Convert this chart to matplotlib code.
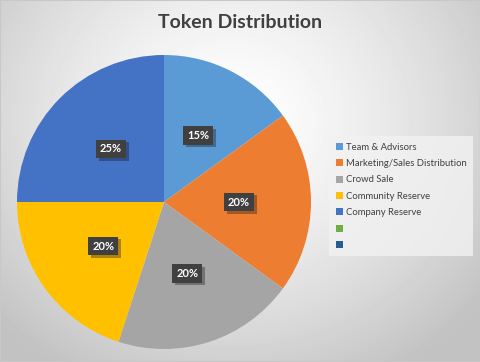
import numpy as np
import matplotlib
matplotlib.use("Agg")
import matplotlib.pyplot as plt
from matplotlib.patches import Patch
import matplotlib.patheffects as pe

categories = ["Team & Advisors", "Marketing/Sales Distribution", "Crowd Sale",
              "Community Reserve", "Company Reserve", "", ""]
shares = [15, 20, 20, 20, 25, 0, 0]
colors = ["#5B9BD5", "#ED7D31", "#A5A5A5", "#FFC000", "#4472C4", "#70AD47", "#255E91"]

fig = plt.figure(figsize=(4.81, 3.62), dpi=100)

# radial gradient background
bg = fig.add_axes([0, 0, 1, 1])
yy, xx = np.mgrid[0:362, 0:481]
r = np.sqrt(((xx - 230) / 330.0) ** 2 + ((yy - 120) / 300.0) ** 2)
shade = np.clip(1.0 - 0.25 * r ** 1.4, 0.76, 1.0)
bg.imshow(shade, cmap="gray", vmin=0, vmax=1, aspect="auto", extent=[0, 1, 0, 1])
bg.set_axis_off()
fig.patches.append(plt.Rectangle((0, 0), 1, 1, transform=fig.transFigure,
                                 fill=False, edgecolor="#c8c8c8", lw=1.5))

fig.text(240 / 481, 1 - 22 / 362, "Token Distribution", ha="center", va="center",
         fontsize=14, fontweight="bold", color="#404040", family="Lato")

r_px = 147
cx, cy = 164, 202
ax = fig.add_axes([(cx - r_px) / 481, 1 - (cy + r_px) / 362, 2 * r_px / 481, 2 * r_px / 362])
ax.set_axis_off()
vals = [v for v in shares if v > 0]
wedges, texts, autotexts = ax.pie(vals, colors=colors[:len(vals)], startangle=90,
                                  counterclock=False, autopct="%d%%", pctdistance=0.51,
                                  radius=1.0, wedgeprops=dict(linewidth=0))
ax.set_xlim(-1, 1)
ax.set_ylim(-1, 1)
for t in autotexts:
    t.set_color("white")
    t.set_fontsize(8)
    t.set_fontweight("bold")
    t.set_family("Lato")
    t.set_bbox(dict(boxstyle="square,pad=0.35", facecolor="#404040", edgecolor="none",
                    path_effects=[pe.SimplePatchShadow(offset=(2, -2), alpha=0.35),
                                  pe.Normal()]))

handles = [Patch(facecolor=c, edgecolor="none") for c in colors]
leg = fig.legend(handles, categories, loc="upper left",
                 bbox_to_anchor=(329 / 481, 1 - 136 / 362), frameon=True,
                 prop={"family": "Lato", "size": 6.8},
                 handlelength=0.75, handleheight=0.75, handletextpad=0.35,
                 labelspacing=0.78, borderpad=0.7, borderaxespad=0, fancybox=False,
                 labelcolor="#404040")
leg.get_frame().set_facecolor("#f2f2f2")
leg.get_frame().set_edgecolor("none")

fig.savefig("out.png", dpi=100)
